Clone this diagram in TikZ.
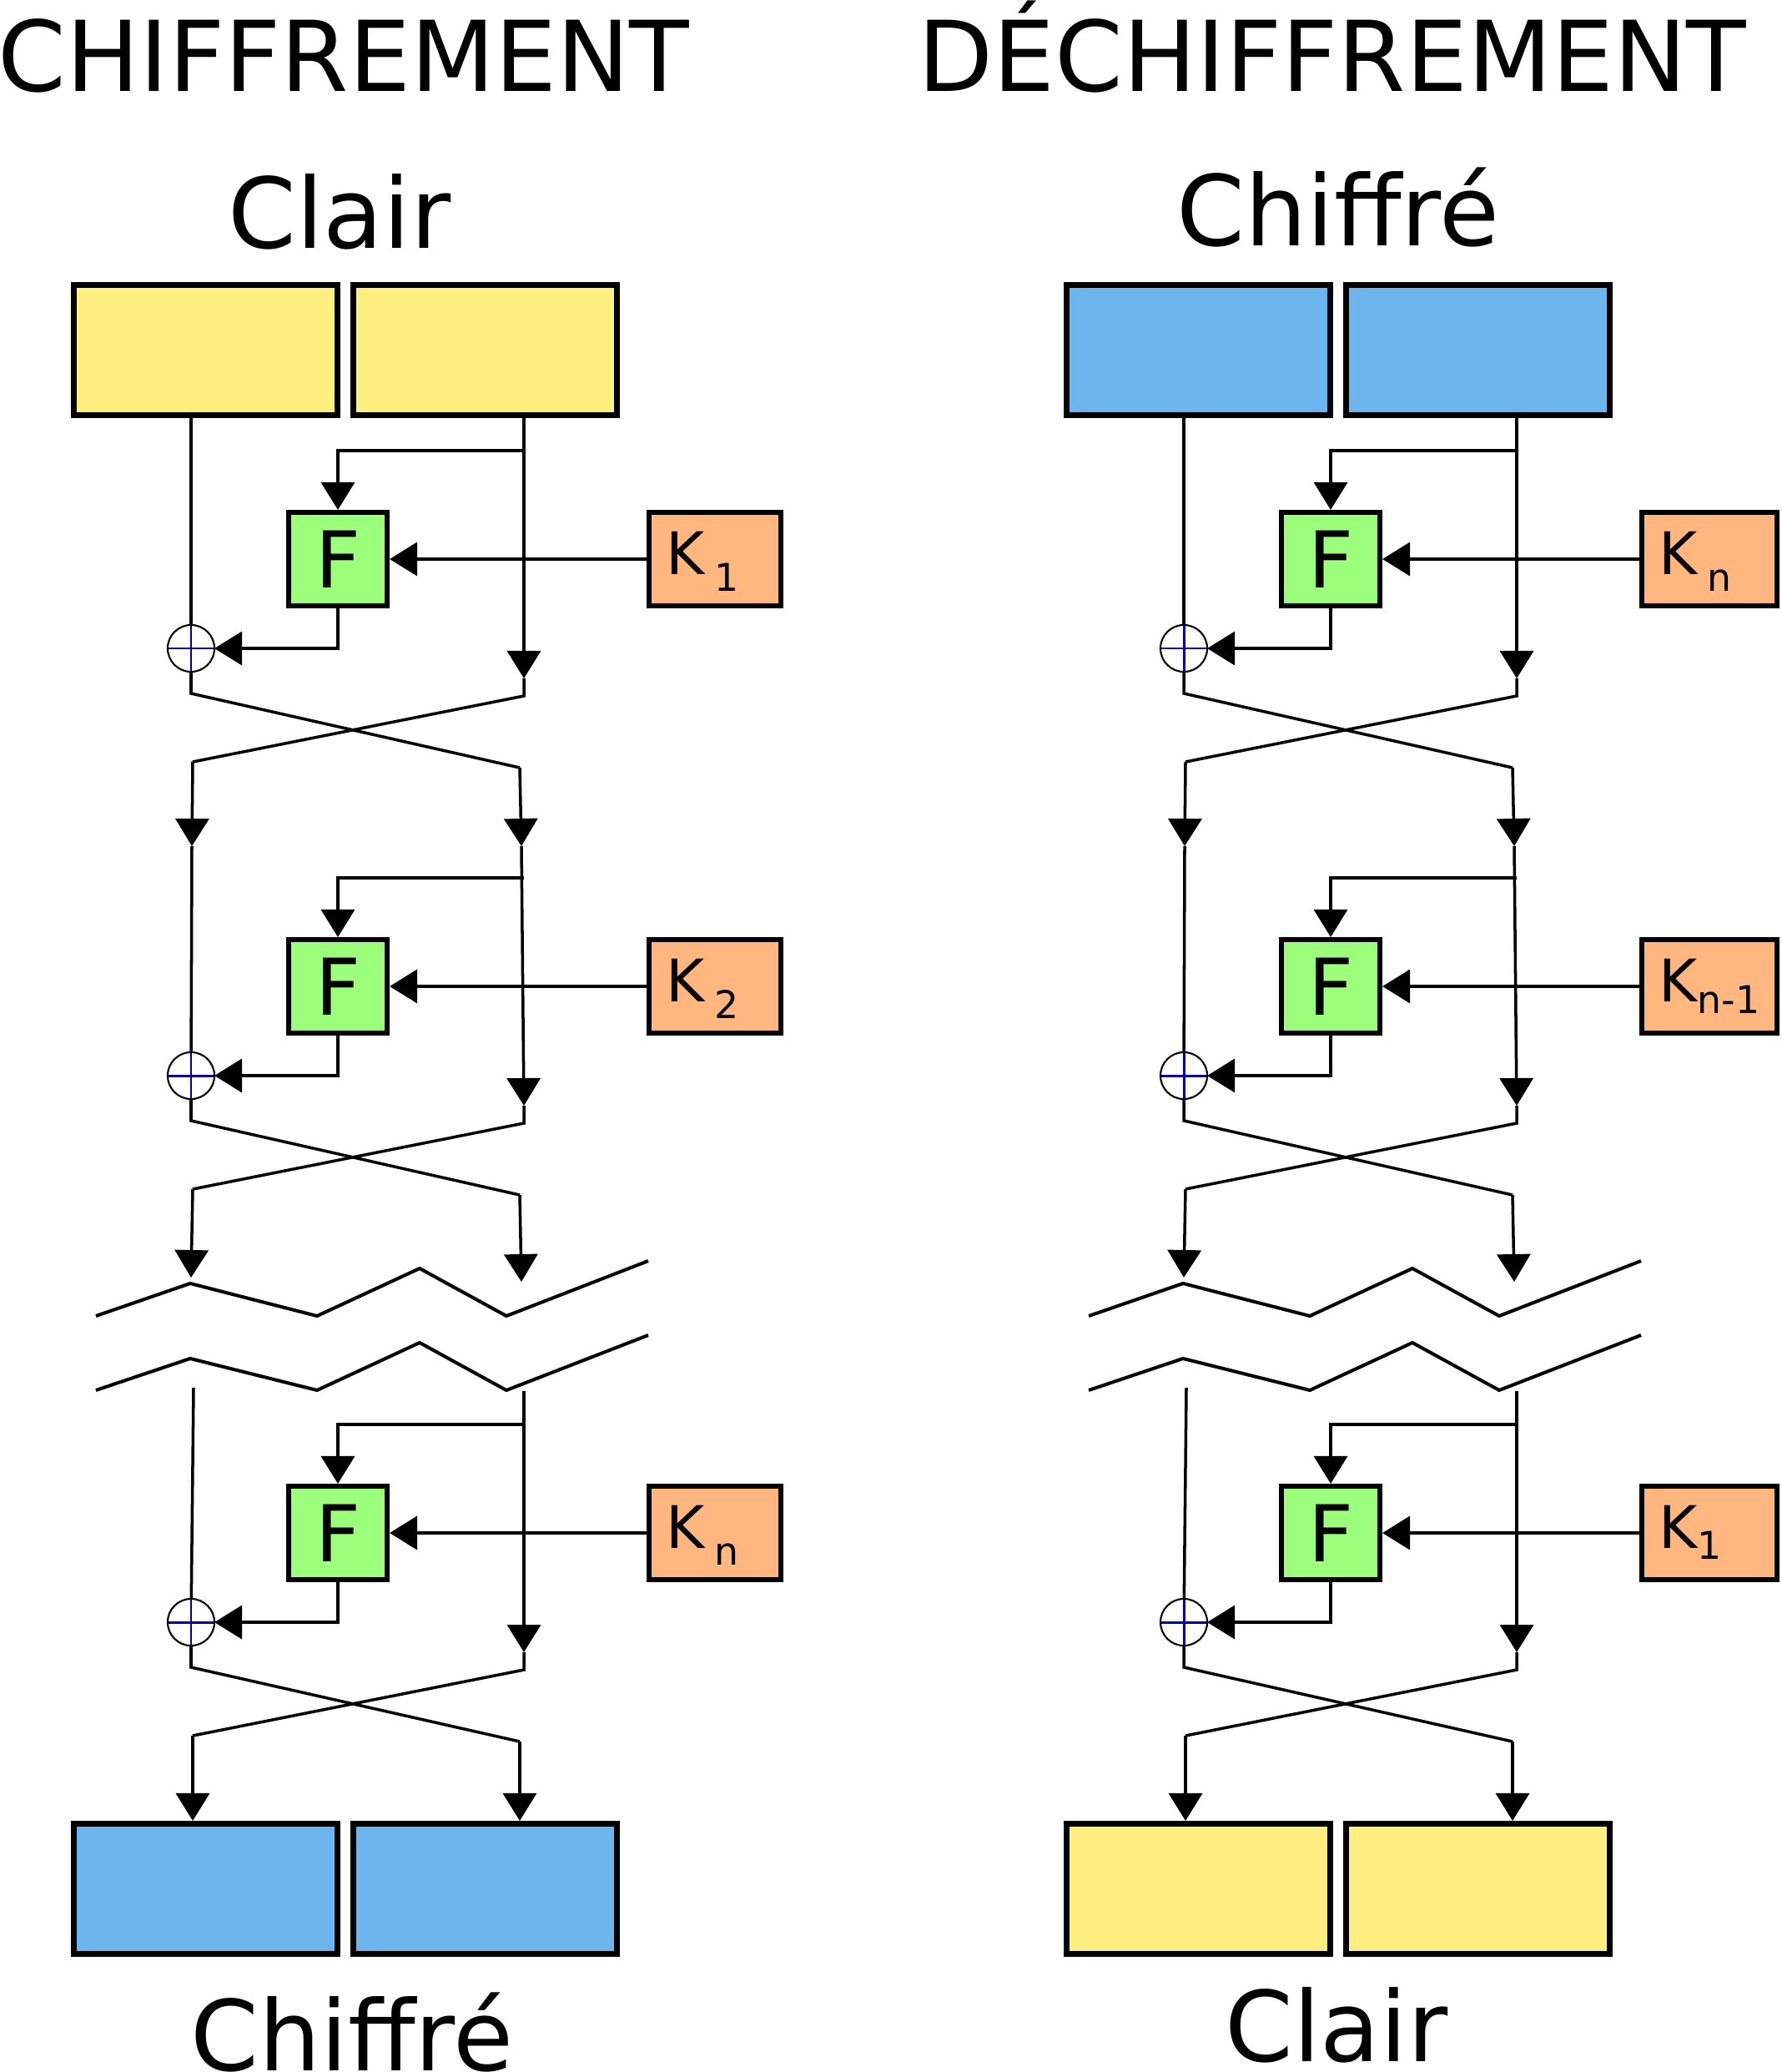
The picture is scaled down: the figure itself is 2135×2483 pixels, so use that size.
\documentclass[tikz,border=0pt]{standalone}
\usepackage{fontspec}
\setmainfont{DejaVu Sans}
\usetikzlibrary{arrows.meta,calc}
\definecolor{ybox}{HTML}{FFEE80}
\definecolor{bbox}{HTML}{6CB5EE}
\definecolor{fgreen}{HTML}{9CFF7C}
\definecolor{korange}{HTML}{FFB67F}
\definecolor{navyplus}{HTML}{0000A0}
\tikzset{
 conn/.style={line width=1pt},
 arr/.style={-{Triangle[length=0.33cm,width=0.40cm]}},
 half/.style={draw, line width=2pt, minimum width=3.16cm, minimum height=1.56cm, inner sep=0},
 fbox/.style={draw, fill=fgreen, line width=1.7pt, minimum width=1.18cm, minimum height=1.12cm, inner sep=0, font=\fontsize{26.7}{27}\selectfont},
 kbox/.style={draw, fill=korange, line width=1.7pt, minimum height=1.12cm, inner sep=0},
 klab/.style={inner sep=0, anchor=base west, font=\fontsize{20}{20}\selectfont},
 xorc/.style={circle, draw, line width=0.6pt, minimum size=0.56cm, inner sep=0, outer sep=0,
   path picture={\draw[navyplus, line width=0.85pt] (path picture bounding box.north) -- (path picture bounding box.south) (path picture bounding box.west) -- (path picture bounding box.east);}},
 zz/.style={line width=1.15pt},
 big/.style={inner sep=0, anchor=base, font=\fontsize{33.3}{40}\selectfont},
}
\newcommand\kk[3]{K\hspace{#1}\raisebox{#2}{\fontsize{13}{13}\selectfont #3}}
% one Feistel round: #1 prefix, #2 dx, #3 dy, #4 key label, #5 key x centre, #6 key width
\newcommand\fround[6]{%
 \begin{scope}[shift={(#2,#3)}]
  \node[fbox] (#1-F) at (405,670) {F};
  \node[kbox, minimum width=#6] (#1-K) at (#5,670) {};
  \node[klab] (#1-Kt) at ([xshift=0.23cm,yshift=-0.18cm]#1-K.west) {#4};
  \node[xorc] (#1-X) at (229,777) {};
  \coordinate (#1-br) at (628,540);
  \coordinate (#1-bc) at (405,540);
  \coordinate (#1-fc) at (405,777);
  \coordinate (#1-ra) at (628,813);
  \coordinate (#1-rb) at (628,834);
  \coordinate (#1-lb) at (229,831);
  \coordinate (#1-rc) at (623,920);
  \coordinate (#1-lc) at (231,913);
 \end{scope}
 \draw[conn,arr] (#1-br) -- (#1-bc) -- (#1-F);
 \draw[conn,arr] (#1-K) -- (#1-F);
 \draw[conn,arr] (#1-F) -- (#1-fc) -- (#1-X);
 \draw[conn] (#1-X) -- (#1-lb) -- (#1-rc);
 \draw[conn] (#1-ra) -- (#1-rb) -- (#1-lc);
}
% one column: #1 prefix, #2 dx, #3-#5 key labels, #6 key x, #7 key width, #8 top colour, #9 bottom colour
\newcommand\fcolumn[9]{%
 \fround{#1a}{#2}{0}{#3}{#6}{#7}
 \fround{#1b}{#2}{512}{#4}{#6}{#7}
 \fround{#1c}{#2}{1167}{#5}{#6}{#7}
 \begin{scope}[shift={(#2,0)}]
  \node[half, fill=#8] (#1-topL) at (246.5,419.5) {};
  \node[half, fill=#8] (#1-topR) at (581.5,419.5) {};
  \node[half, fill=#9] (#1-botL) at (246.5,2263.5) {};
  \node[half, fill=#9] (#1-botR) at (581.5,2263.5) {};
  \coordinate (#1-l1) at (230,1014); \coordinate (#1-r1) at (625,1014);
  \coordinate (#1-l2) at (229,1531); \coordinate (#1-r2) at (625,1536);
  \coordinate (#1-l3) at (232,1663); \coordinate (#1-r3) at (628,1667);
  \draw[zz] (115,1577) -- (228,1538) -- (380,1577) -- (503,1520) -- (607,1577) -- (777,1511);
  \draw[zz] (115,1666) -- (228,1628) -- (380,1666) -- (503,1609) -- (607,1666) -- (777,1600);
 \end{scope}
 \draw[conn] (#1-topL.south -| #1a-X) -- (#1a-X);
 \draw[conn,arr] (#1-topR.south -| #1a-ra) -- (#1a-ra);
 \draw[conn,arr] (#1a-lc) -- (#1-l1);
 \draw[conn,arr] (#1a-rc) -- (#1-r1);
 \draw[conn] (#1-l1) -- (#1b-X);
 \draw[conn,arr] (#1-r1) -- (#1b-ra);
 \draw[conn,arr] (#1b-lc) -- (#1-l2);
 \draw[conn,arr] (#1b-rc) -- (#1-r2);
 \draw[conn] (#1-l3) -- (#1c-X);
 \draw[conn,arr] (#1-r3) -- (#1c-ra);
 \draw[conn,arr] (#1c-lc) -- (#1c-lc |- #1-botL.north);
 \draw[conn,arr] (#1c-rc) -- (#1c-rc |- #1-botR.north);
}
\begin{document}
\begin{tikzpicture}[x={(0.01cm,0)}, y={(0,-0.01cm)}]
\useasboundingbox (0,0) rectangle (2135,2483);
\node[big] (t1) at (412,110) {CHIFFREMENT};
\node[big] (t2) at (1597,110) {DÉCHIFFREMENT};
\node[big] (in1) at (407,298) {Clair};
\node[big] (in2) at (1604,295) {Chiffré};
\node[big] (out1) at (422,2481) {Chiffré};
\node[big] (out2) at (1602,2470) {Clair};
\fcolumn{A}{0}{\kk{0.12cm}{-0.2cm}{1}}{\kk{0.12cm}{-0.2cm}{2}}{\kk{0.12cm}{-0.2cm}{n}}{857}{1.58cm}{ybox}{bbox}
\fcolumn{B}{1190}{\kk{0.12cm}{-0.2cm}{n}}{\kk{0cm}{-0.14cm}{n-1}}{\kk{0cm}{-0.13cm}{1}}{859}{1.62cm}{bbox}{ybox}
\end{tikzpicture}
\end{document}
